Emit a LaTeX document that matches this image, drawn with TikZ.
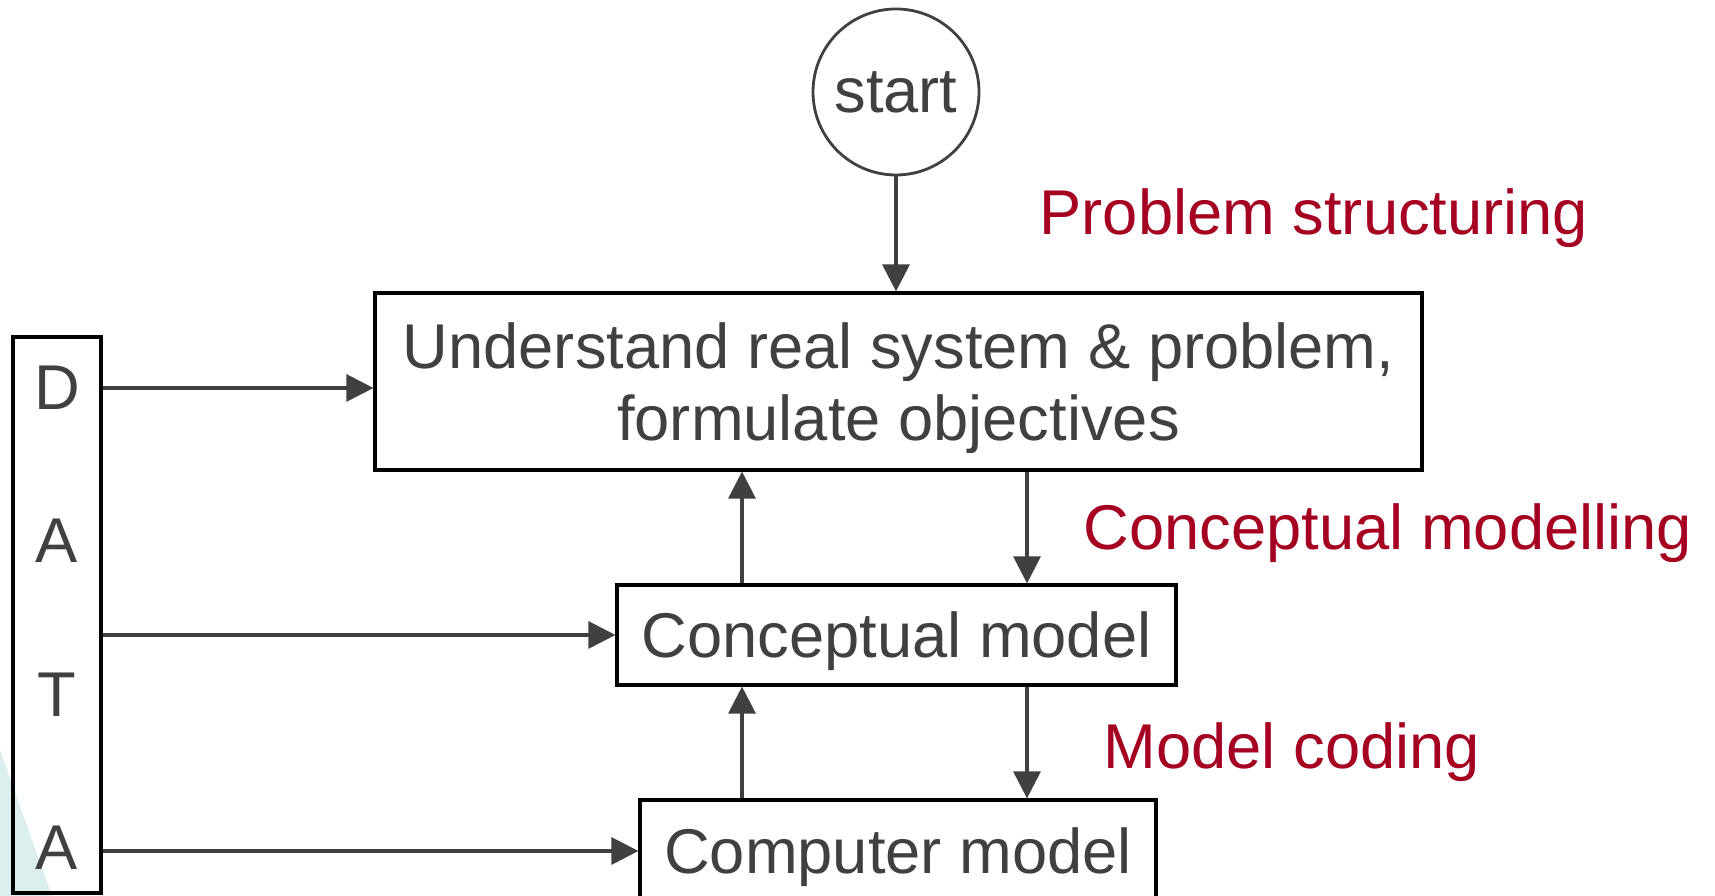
\documentclass[tikz,border=0pt]{standalone}
\usepackage{fontspec}
\setmainfont{Liberation Sans}
\usetikzlibrary{arrows.meta,calc}
\definecolor{inkgrey}{RGB}{64,64,64}
\definecolor{phasered}{RGB}{165,0,33}
\definecolor{slidecyan}{RGB}{220,239,239}
\tikzset{stage/.style={draw=black,line width=0.9pt,text=inkgrey,align=center,inner sep=0pt,text depth=0pt}}
\tikzset{phase/.style={text=phasered,anchor=base west,inner sep=0pt}}

\begin{document}
\begin{tikzpicture}
[font=\fontsize{18}{20.7}\selectfont, flow/.style={draw=inkgrey,line width=0.9pt,-{Triangle[length=2.7mm,width=2.7mm]}}]
\useasboundingbox (0,0) rectangle (17.15,8.96);
\clip (0,0) rectangle (17.15,8.96);
\fill[slidecyan] (0,1.46) -- (0.52,0) -- (0,0) -- cycle;

\node (start) at (8.96,8.04)[circle,draw=inkgrey,line width=0.8pt,minimum size=1.66cm,inner sep=0pt,text=inkgrey]{start};
\node (understand) at (8.985,5.145)[stage,minimum width=10.47cm,minimum height=1.77cm]{Understand real system \& problem,\\formulate objectives};
\node (concept) at (8.965,2.61)[stage,minimum width=5.59cm,minimum height=1.0cm]{Conceptual model};
\node (computer) at (8.98,0.45)[stage,minimum width=5.16cm,minimum height=1.02cm]{Computer model};

\node (data) at (0.57,2.81)[stage,minimum width=0.88cm,minimum height=5.56cm]{};
\node (d1) at (0.57,5.08)[text=inkgrey]{D};
\node (a1) at (0.57,3.55)[text=inkgrey]{A};
\node (t1) at (0.57,2.01)[text=inkgrey]{T};
\node (a2) at (0.57,0.48)[text=inkgrey]{A};

\node (structuring) at (10.39,6.61)[phase]{Problem structuring};
\node (modelling) at (10.83,3.46)[phase]{Conceptual modelling};
\node (coding) at (11.03,1.27)[phase]{Model coding};

\coordinate (upx) at (7.42,0);
\coordinate (downx) at (10.27,0);

\draw[flow] (start.south) -- (start.south |- understand.north);
\draw[flow] (data.east |- d1) -- (understand.west |- d1);
\draw[flow] (data.east |- concept) -- (concept.west);
\draw[flow] (data.east |- computer) -- (computer.west);
\draw[flow] (concept.north -| upx) -- (understand.south -| upx);
\draw[flow] (understand.south -| downx) -- (concept.north -| downx);
\draw[flow] (computer.north -| upx) -- (concept.south -| upx);
\draw[flow] (concept.south -| downx) -- (computer.north -| downx);
\end{tikzpicture}
\end{document}
